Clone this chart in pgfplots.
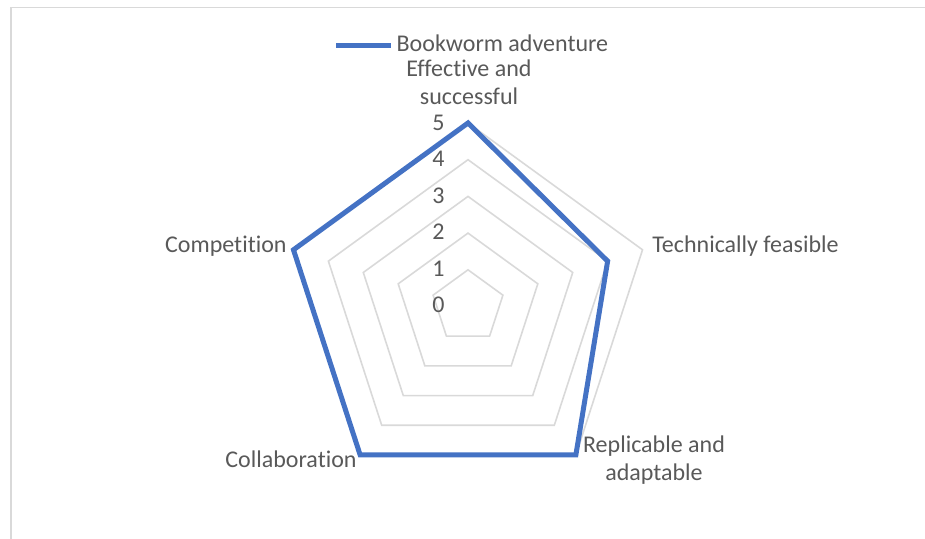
\documentclass[border=0pt]{standalone}
\usepackage{fontspec}
\setmainfont{Carlito}[Ligatures={NoCommon}]
\usepackage{pgfplots}
\pgfplotsset{compat=1.18}
\usepgfplotslibrary{polar}
\definecolor{seriesblue}{HTML}{4472C4}
\definecolor{ringgray}{HTML}{D9D9D9}
\definecolor{textgray}{HTML}{595959}
\begin{document}
\begin{tikzpicture}[x=0.5bp,y=-0.5bp,
  lbl/.style={inner sep=0pt, text=textgray, font=\fontsize{12bp}{14bp}\selectfont}]
\path[use as bounding box] (0,0) rectangle (925,539);
\draw[ringgray, line width=0.75bp] (11,539) -- (11,7.5) -- (925,7.5);
\begin{polaraxis}[
  at={(234bp,-153.25bp)}, anchor=center,
  scale only axis, width=183.5bp, height=183.5bp,
  ymin=0, ymax=5,
  hide axis, xtick=\empty, ytick=\empty,
  clip=false,
  legend style={at={(axis description cs:0.512,1.2125)}, anchor=center,
    draw=none, fill=none, inner sep=0pt,
    font=\fontsize{12bp}{14bp}\selectfont, text=textgray,
    nodes={inner sep=1.5bp}},
  legend image code/.code={\draw[#1] (0bp,0bp) -- (27.5bp,0bp);},
]
  % grid rings
  \addplot[ringgray, line width=0.8bp, mark=none, forget plot] coordinates {(90,1) (18,1) (-54,1) (-126,1) (162,1)} -- cycle;
  \addplot[ringgray, line width=0.8bp, mark=none, forget plot] coordinates {(90,2) (18,2) (-54,2) (-126,2) (162,2)} -- cycle;
  \addplot[ringgray, line width=0.8bp, mark=none, forget plot] coordinates {(90,3) (18,3) (-54,3) (-126,3) (162,3)} -- cycle;
  \addplot[ringgray, line width=0.8bp, mark=none, forget plot] coordinates {(90,4) (18,4) (-54,4) (-126,4) (162,4)} -- cycle;
  \addplot[ringgray, line width=0.8bp, mark=none, forget plot] coordinates {(90,5) (18,5) (-54,5) (-126,5) (162,5)} -- cycle;
  % series
  \addplot[seriesblue, line width=2.5bp, line join=miter, mark=none]
    coordinates {(90,5) (18,4) (-54,5) (-126,5) (162,5)} -- cycle;
  \addlegendentry{Bookworm adventure}
\end{polaraxis}
% category labels
\node[lbl, anchor=base] at (469,77) {Effective and};
\node[lbl, anchor=base] at (469,105) {successful};
\node[lbl, anchor=base west] at (652,253) {Technically feasible};
\node[lbl, anchor=base] at (654,453) {Replicable and};
\node[lbl, anchor=base] at (654,481) {adaptable};
\node[lbl, anchor=base east] at (357,468) {Collaboration};
\node[lbl, anchor=base east] at (287,253) {Competition};
% radial tick labels
\node[lbl, anchor=base east] at (445,131) {5};
\node[lbl, anchor=base east] at (445,167) {4};
\node[lbl, anchor=base east] at (445,204) {3};
\node[lbl, anchor=base east] at (445,240) {2};
\node[lbl, anchor=base east] at (445,277) {1};
\node[lbl, anchor=base east] at (445,313) {0};
\end{tikzpicture}
\end{document}
